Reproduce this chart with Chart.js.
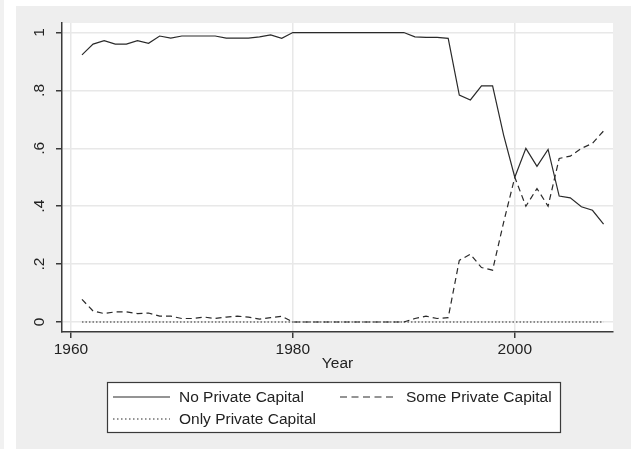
<!DOCTYPE HTML>
<html>
<head>
   <title>Private Capital</title>
   <meta charset="utf-8">
   <script src="https://cdn.jsdelivr.net/npm/chart.js"></script>
   <style>
     body { margin: 0; background: #ffffff; }
     canvas { display: block; }
   </style>
</head>
<body>
   <canvas id="myChart" width="631" height="449"></canvas>

   <script type="text/javascript">
      // data
      var years = [1961, 1962, 1963, 1964, 1965, 1966, 1967, 1968, 1969, 1970,
                   1971, 1972, 1973, 1974, 1975, 1976, 1977, 1978, 1979, 1980,
                   1981, 1982, 1983, 1984, 1985, 1986, 1987, 1988, 1989, 1990,
                   1991, 1992, 1993, 1994, 1995, 1996, 1997, 1998, 1999, 2000,
                   2001, 2002, 2003, 2004, 2005, 2006, 2007, 2008];
      var noPrivate = [.923, .960, .972, .960, .960, .972, .963, .988, .981, .988,
                       .988, .988, .988, .981, .981, .981, .985, .992, .980, 1,
                       1, 1, 1, 1, 1, 1, 1, 1, 1, 1,
                       .985, .983, .983, .980, .784, .767, .816, .816, .645, .500,
                       .600, .538, .596, .435, .429, .398, .386, .338];
      var somePrivate = [.078, .038, .029, .035, .035, .029, .031, .020, .020, .012,
                         .012, .017, .012, .017, .020, .017, .010, .015, .020, 0,
                         0, 0, 0, 0, 0, 0, 0, 0, 0, 0,
                         .012, .020, .012, .015, .213, .234, .188, .179, .345, .500,
                         .400, .461, .400, .565, .573, .600, .617, .660];
      var onlyPrivate = [0, 0, 0, 0, 0, 0, 0, 0, 0, 0,
                         0, 0, 0, 0, 0, 0, 0, 0, 0, 0,
                         0, 0, 0, 0, 0, 0, 0, 0, 0, 0,
                         0, 0, 0, 0, 0, 0, 0, 0, 0, 0,
                         0, 0, 0, 0, 0, 0, 0, 0];
      var seriesNames = ["No Private Capital", "Some Private Capital", "Only Private Capital"];
      var xTicks = [1960, 1980, 2000];
      var yTicks = [0, .2, .4, .6, .8, 1];
      var yTickLabels = ["0", ".2", ".4", ".6", ".8", "1"];
      var xTitle = "Year";

      function points(vals) {
         return years.map(function (yr, i) { return {x: yr, y: vals[i]}; });
      }

      Chart.defaults.font.family = '"Liberation Sans", Arial, sans-serif';
      Chart.defaults.font.size = 15.5;
      Chart.defaults.color = '#222222';

      var ink = '#3a3a3a';

      // gray page, white plot region
      var backgroundPlugin = {
         id: 'backgroundPlugin',
         beforeDraw: function (chart) {
            var c = chart.ctx, a = chart.chartArea;
            c.save();
            c.fillStyle = '#ffffff';
            c.fillRect(0, 0, chart.width, chart.height);
            c.fillStyle = '#f1f1f1';
            c.fillRect(0, 0, 4, chart.height);
            c.fillStyle = '#eeeeee';
            c.fillRect(16, 6, chart.width - 16, chart.height - 6);
            c.fillStyle = '#ffffff';
            c.fillRect(a.left, a.top, a.right - a.left, a.bottom - a.top);
            c.restore();
         }
      };

      // boxed legend under the axis title
      var legendBoxPlugin = {
         id: 'legendBoxPlugin',
         afterDraw: function (chart) {
            var c = chart.ctx;
            var box = {x: 107, y: 382, w: 453, h: 50};
            var cols = [113, 340];
            var rows = [397, 419];
            c.save();
            c.fillStyle = '#ffffff';
            c.fillRect(box.x, box.y, box.w, box.h);
            c.strokeStyle = ink;
            c.lineWidth = 1.2;
            c.strokeRect(box.x + 0.5, box.y + 0.5, box.w, box.h);
            c.font = '15.5px "Liberation Sans", Arial, sans-serif';
            c.fillStyle = '#222222';
            c.textBaseline = 'middle';
            chart.data.datasets.forEach(function (ds, i) {
               var x = cols[i % 2], y = rows[Math.floor(i / 2)];
               c.beginPath();
               c.setLineDash(ds.legendDash || []);
               c.strokeStyle = ds.borderColor;
               c.lineWidth = ds.borderWidth;
               c.moveTo(x, y);
               c.lineTo(x + 57, y);
               c.stroke();
               c.setLineDash([]);
               c.fillText(ds.label, x + 66, y + 1);
            });
            c.restore();
         }
      };

      var ctx = document.getElementById('myChart');
      var myChart = new Chart(ctx, {
         type: 'line',
         data: {
            datasets: [
               { label: seriesNames[0], data: points(noPrivate), borderColor: '#2a2a2a',
                 borderWidth: 1.2, pointRadius: 0, tension: 0, legendDash: [] },
               { label: seriesNames[1], data: points(somePrivate), borderColor: '#2a2a2a',
                 borderWidth: 1.2, borderDash: [6, 4], pointRadius: 0, tension: 0, legendDash: [7, 4.5] },
               { label: seriesNames[2], data: points(onlyPrivate), borderColor: '#2a2a2a',
                 borderWidth: 1.2, borderDash: [1.5, 2], pointRadius: 0, tension: 0, legendDash: [1.5, 2.5] }
            ]
         },
         options: {
            responsive: false,
            animation: false,
            devicePixelRatio: 1,
            layout: { padding: { left: 0, top: 23, right: 18, bottom: 76 } },
            plugins: {
               legend: { display: false },
               tooltip: { enabled: false }
            },
            scales: {
               x: {
                  type: 'linear',
                  min: 1959.2,
                  max: 2008.85,
                  afterBuildTicks: function (scale) {
                     scale.ticks = xTicks.map(function (v) { return {value: v}; });
                  },
                  afterFit: function (scale) { scale.height = 41; },
                  ticks: { maxRotation: 0, padding: 2, color: '#222222',
                           callback: function (v) { return String(v); } },
                  grid: { color: '#e8e8e8', lineWidth: 1.5, tickColor: ink, tickLength: 6, tickWidth: 1.5 },
                  border: { display: true, color: ink, width: 1.5 },
                  title: { display: true, text: xTitle, padding: 0, color: '#222222' }
               },
               y: {
                  min: -0.0346,
                  max: 1.033,
                  afterBuildTicks: function (scale) {
                     scale.ticks = yTicks.map(function (v) { return {value: v}; });
                  },
                  afterFit: function (scale) { scale.width = 62; },
                  ticks: { minRotation: 90, maxRotation: 90, crossAlign: 'center', padding: 9.5,
                           color: '#222222',
                           callback: function (v, i) { return yTickLabels[i]; } },
                  grid: { color: '#e8e8e8', lineWidth: 1.5, tickColor: ink, tickLength: 6, tickWidth: 1.5 },
                  border: { display: true, color: ink, width: 1.5 }
               }
            }
         },
         plugins: [backgroundPlugin, legendBoxPlugin]
      });
   </script>
</body>
</html>
